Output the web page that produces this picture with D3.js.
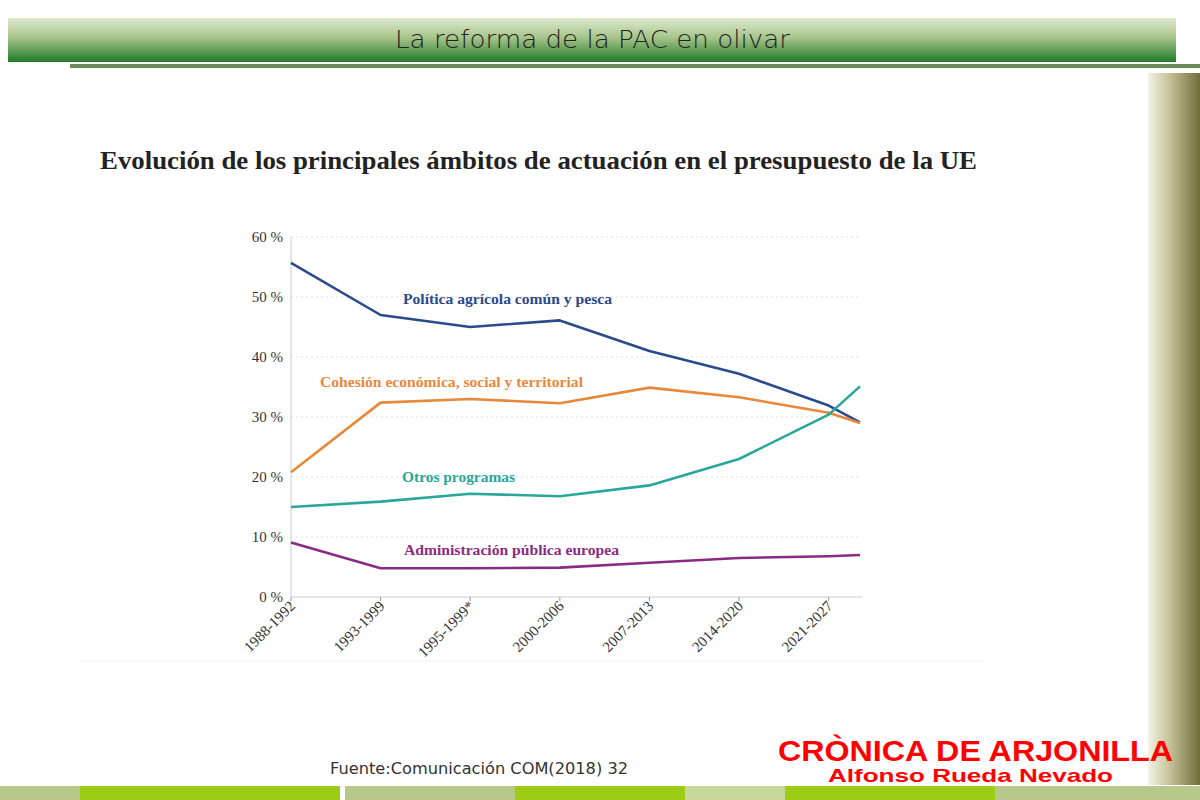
<!DOCTYPE html>
<html><head><meta charset="utf-8">
<script src="https://cdn.jsdelivr.net/npm/d3@7/dist/d3.min.js"></script>
<style>body{margin:0;background:#fff}svg{display:block}</style>
</head><body>
<svg id="c" width="1200" height="800"></svg>
<script>
const categories = ["1988-1992","1993-1999","1995-1999*","2000-2006","2007-2013","2014-2020","2021-2027"];
const xPos = [0,1,2,3,4,5,6,6.35];
const pac = [55.7,47,45,46.1,41,37.2,31.9,29.1];
const cohesion = [20.8,32.4,33,32.3,34.9,33.3,30.7,29];
const otros = [15,15.9,17.2,16.8,18.6,23,30.4,35.1];
const admin = [9.1,4.8,4.8,4.9,5.7,6.5,6.8,7];
const yTicks = [0,10,20,30,40,50,60];
const series = [
 {name:"Política agrícola común y pesca", vals:pac, color:"#2b4a8c", lx:403, ly:304, w:209},
 {name:"Cohesión económica, social y territorial", vals:cohesion, color:"#e8883a", lx:320, ly:387, w:263},
 {name:"Otros programas", vals:otros, color:"#2aa79b", lx:402, ly:482, w:113},
 {name:"Administración pública europea", vals:admin, color:"#8b2a84", lx:404, ly:555, w:215}
];
const svg = d3.select("#c");
const defs = svg.append("defs");
const g1 = defs.append("linearGradient").attr("id","hdr").attr("x1",0).attr("y1",0).attr("x2",0).attr("y2",1);
g1.append("stop").attr("offset","0%").attr("stop-color","#dfe9cf");
g1.append("stop").attr("offset","45%").attr("stop-color","#a6c48a");
g1.append("stop").attr("offset","100%").attr("stop-color","#1f7a26");
const g2 = defs.append("linearGradient").attr("id","side").attr("x1",0).attr("y1",0).attr("x2",1).attr("y2",0);
g2.append("stop").attr("offset","0%").attr("stop-color","#f2f2e6");
g2.append("stop").attr("offset","40%").attr("stop-color","#c7c59a");
g2.append("stop").attr("offset","100%").attr("stop-color","#6f6d3a");
svg.append("rect").attr("x",8).attr("y",18).attr("width",1168).attr("height",44).attr("fill","url(#hdr)");
svg.append("text").attr("x",395).attr("y",48).attr("font-family","'DejaVu Sans'").attr("font-weight",300).attr("font-size",25).attr("fill","#222").attr("textLength",395).attr("lengthAdjust","spacingAndGlyphs").text("La reforma de la PAC en olivar");
svg.append("rect").attr("x",70).attr("y",64).attr("width",1130).attr("height",4).attr("fill","#6f8a5a");
svg.append("rect").attr("x",1148).attr("y",73).attr("width",52).attr("height",712).attr("fill","url(#side)");
const segs=[[0,80,"#b7c98a"],[80,260,"#9ccc14"],[345,170,"#b7c98a"],[515,170,"#9ccc14"],[685,100,"#c6d89a"],[785,210,"#9ccc14"],[995,205,"#b7c98a"]];
segs.forEach(s=>svg.append("rect").attr("x",s[0]).attr("y",786).attr("width",s[1]).attr("height",14).attr("fill",s[2]));
svg.append("line").attr("x1",80).attr("x2",985).attr("y1",661).attr("y2",661).attr("stroke","#eee");
svg.append("text").attr("x",100).attr("y",169).attr("font-family","'Liberation Serif'").attr("font-weight","bold").attr("font-size",25).attr("fill","#222").attr("textLength",877).attr("lengthAdjust","spacingAndGlyphs").text("Evolución de los principales ámbitos de actuación en el presupuesto de la UE");

const x = d3.scaleLinear().domain([0,6.35]).range([291,860]);
const y = d3.scaleLinear().domain([0,60]).range([597,237]);
const grid = svg.append("g");
yTicks.slice(1).forEach(t=>grid.append("line").attr("x1",291).attr("x2",860).attr("y1",y(t)).attr("y2",y(t)).attr("stroke","#ddd").attr("stroke-dasharray","2,3"));
svg.append("line").attr("x1",291).attr("x2",291).attr("y1",237).attr("y2",597).attr("stroke","#ccc");
svg.append("line").attr("x1",291).attr("x2",862).attr("y1",597).attr("y2",597).attr("stroke","#ccc");
yTicks.forEach(t=>svg.append("text").attr("x",283).attr("y",y(t)+5).attr("text-anchor","end").attr("font-family","'Liberation Serif'").attr("font-size",15).attr("fill","#333").text(t+" %"));
categories.forEach((c,i)=>{
  svg.append("line").attr("x1",x(i)).attr("x2",x(i)).attr("y1",597).attr("y2",601).attr("stroke","#999");
  svg.append("text").attr("transform",`translate(${x(i)+5},${607}) rotate(-45)`).attr("text-anchor","end").attr("font-family","'Liberation Serif'").attr("font-size",15).attr("fill","#333").text(c);
});
const line = d3.line().x((d,i)=>x(xPos[i])).y(d=>y(d));
series.forEach(s=>{
  svg.append("path").attr("d",line(s.vals)).attr("fill","none").attr("stroke",s.color).attr("stroke-width",2.6).attr("stroke-linejoin","round");
  svg.append("text").attr("x",s.lx).attr("y",s.ly).attr("font-family","'Liberation Serif'").attr("font-weight","bold").attr("font-size",15).attr("fill",s.color).attr("textLength",s.w).attr("lengthAdjust","spacingAndGlyphs").text(s.name);
});
svg.append("text").attr("x",330).attr("y",774).attr("font-family","'DejaVu Sans'").attr("font-size",15).attr("fill","#333").attr("textLength",298).attr("lengthAdjust","spacingAndGlyphs").text("Fuente:Comunicación COM(2018) 32");
svg.append("text").attr("x",778).attr("y",761).attr("font-family","'Liberation Sans'").attr("font-weight","bold").attr("font-size",29).attr("fill","#f00").attr("textLength",395).attr("lengthAdjust","spacingAndGlyphs").text("CRÒNICA DE ARJONILLA");
svg.append("text").attr("x",828).attr("y",782).attr("font-family","'Liberation Sans'").attr("font-weight","bold").attr("font-size",19).attr("fill","#f00").attr("textLength",285).attr("lengthAdjust","spacingAndGlyphs").text("Alfonso Rueda Nevado");
</script>
</body></html>
